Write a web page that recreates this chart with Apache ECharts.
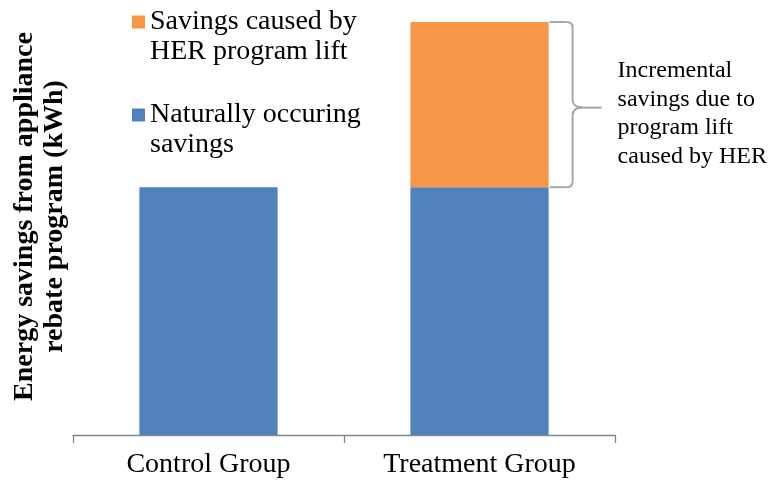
<!DOCTYPE html>
<html>
<head>
<meta charset="utf-8">
<style>
  html, body { margin: 0; padding: 0; background: #fff; }
  #main { width: 771px; height: 485px; }
</style>
<script src="https://cdn.jsdelivr.net/npm/echarts@6/dist/echarts.min.js"></script>
</head>
<body>
<div id="main"></div>
<script>
// 数据
const groups = ['Control Group', 'Treatment Group'];
const naturalName = 'Naturally occuring\nsavings';
const liftName = 'Savings caused by\nHER program lift';
const naturalSavings = [3, 3];
const liftSavings = [0, 2];
const bracketText = 'Incremental\nsavings due to\nprogram lift\ncaused by HER';
const yTitle = 'Energy savings from appliance\nrebate program (kWh)';

const serif = '"Liberation Serif", "DejaVu Serif", serif';

const chart = echarts.init(document.getElementById('main'), null, { renderer: 'canvas' });

const option = {
  animation: false,
  grid: {
    left: 73,
    right: 156,
    top: 22,
    bottom: 50
  },
  legend: {
    orient: 'vertical',
    left: 132,
    top: -23,
    padding: 0,
    itemWidth: 13,
    itemHeight: 13,
    itemGap: 3,
    icon: 'rect',
    data: [liftName, naturalName],
    // 前面加空行，让色块对齐第一行文字
    formatter: name => '\n' + name,
    textStyle: {
      fontFamily: serif,
      fontSize: 28,
      color: '#000',
      lineHeight: 30
    }
  },
  xAxis: {
    type: 'category',
    data: groups,
    boundaryGap: true,
    axisLine: { lineStyle: { color: '#868686', width: 1.3 } },
    axisTick: { show: true, length: 8, lineStyle: { color: '#868686', width: 1.3 } },
    axisLabel: {
      fontFamily: serif,
      fontSize: 28,
      color: '#000',
      margin: 16
    }
  },
  yAxis: {
    type: 'value',
    min: 0,
    max: 5,
    name: yTitle,
    nameLocation: 'middle',
    nameRotate: 90,
    nameGap: 3,
    nameTextStyle: {
      fontFamily: serif,
      fontSize: 28,
      fontWeight: 'bold',
      color: '#000',
      lineHeight: 30,
      padding: [0, 0, 0, 24]
    },
    axisLine: { show: false },
    axisTick: { show: false },
    axisLabel: { show: false },
    splitLine: { show: false }
  },
  series: [
    {
      name: naturalName,
      type: 'bar',
      stack: 'total',
      barWidth: '51%',
      data: naturalSavings,
      itemStyle: { color: '#4f81bd' }
    },
    {
      name: liftName,
      type: 'bar',
      stack: 'total',
      barWidth: '51%',
      data: liftSavings,
      itemStyle: { color: '#f79646' }
    }
  ]
};

chart.setOption(option);

// 大括号标注：位置由坐标轴换算
const idx = 1;
const c0 = chart.convertToPixel({ xAxisIndex: 0 }, 0);
const c1 = chart.convertToPixel({ xAxisIndex: 0 }, 1);
const halfBar = (c1 - c0) * 0.51 / 2;
const x0 = c1 + halfBar + 1;
const yTop = chart.convertToPixel({ yAxisIndex: 0 }, naturalSavings[idx] + liftSavings[idx]);
const yBot = chart.convertToPixel({ yAxisIndex: 0 }, naturalSavings[idx]);
const yMid = (yTop + yBot) / 2 + 3;
const xv = x0 + 23;
const xt = x0 + 52;
const r = 6;
const braceStyle = { fill: 'none', stroke: '#a6a6a6', lineWidth: 2 };

function seg(x1, y1, x2, y2) {
  return { type: 'line', shape: { x1, y1, x2, y2 }, style: braceStyle };
}
function curve(x1, y1, cx, cy, x2, y2) {
  return { type: 'bezierCurve', shape: { x1, y1, cpx1: cx, cpy1: cy, x2, y2 }, style: braceStyle };
}

chart.setOption({
  graphic: [
    seg(x0, yTop, xv - r, yTop),
    curve(xv - r, yTop, xv, yTop, xv, yTop + r),
    seg(xv, yTop + r, xv, yMid - 8),
    curve(xv, yMid - 8, xv, yMid, xv + 10, yMid),
    seg(xv + 10, yMid, xt, yMid),
    curve(xv + 10, yMid, xv, yMid, xv, yMid + 8),
    seg(xv, yMid + 8, xv, yBot - r),
    curve(xv, yBot - r, xv, yBot, xv - r, yBot),
    seg(xv - r, yBot, x0, yBot),
    {
      type: 'text',
      x: x0 + 68,
      y: yMid + 6,
      style: {
        text: bracketText,
        font: '24px ' + serif,
        fill: '#000',
        lineHeight: 28.5,
        align: 'left',
        verticalAlign: 'middle'
      }
    }
  ]
});
</script>
</body>
</html>
